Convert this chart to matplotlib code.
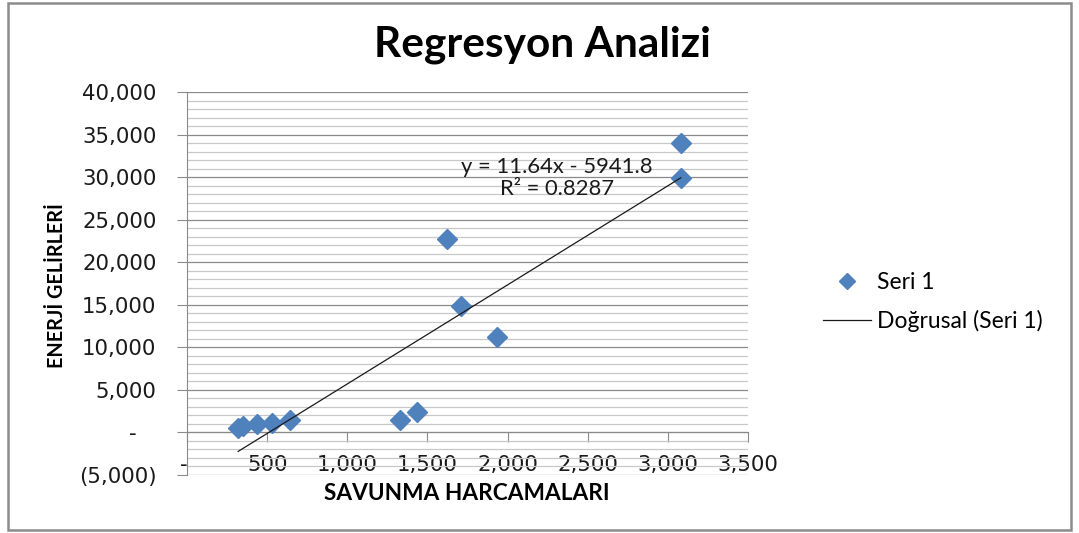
import matplotlib
matplotlib.use("Agg")
import matplotlib.pyplot as plt
from matplotlib.ticker import FuncFormatter, MultipleLocator
from matplotlib.patches import Rectangle
import numpy as np

# ---- data ----
savunma = [319, 350, 437, 531, 644, 1331, 1436, 1619, 1711, 1936, 3081, 3081]
enerji = [506, 741, 976, 1094, 1447, 1447, 2423, 22700, 14850, 11240, 33990, 29870]
slope = 11.64
intercept = -5941.8
eq_text = "y = 11.64x - 5941.8"
r2_text = "R² = 0.8287"
title = "Regresyon Analizi"
xlabel = "SAVUNMA HARCAMALARI"
ylabel = "ENERJİ GELİRLERİ"
series_name = "Seri 1"
trend_name = "Doğrusal (Seri 1)"

blue = "#4F81BD"
fig = plt.figure(figsize=(10.79, 5.33), dpi=100)
ax = fig.add_axes([187/1079, 1-475/533, (748-187)/1079, (475-92)/533])

ax.set_xlim(0, 3500)
ax.set_ylim(-5000, 40000)

def fmt(v, pos=None, ypad=False):
    if abs(v) < 1e-9:
        return "-   " if ypad else "- "
    if v < 0:
        return "({:,.0f})".format(-v)
    return "{:,.0f}".format(v)

ax.yaxis.set_major_locator(MultipleLocator(5000))
ax.yaxis.set_minor_locator(MultipleLocator(1000))
ax.xaxis.set_major_locator(MultipleLocator(500))
ax.yaxis.set_major_formatter(FuncFormatter(lambda v, p: fmt(v, p, True)))
ax.xaxis.set_major_formatter(FuncFormatter(lambda v, p: fmt(v, p, False)))

ax.grid(which="minor", axis="y", color="#c8c8c8", lw=0.9)
ax.grid(which="major", axis="y", color="#8a8a8a", lw=0.9)
ax.set_axisbelow(True)

for s in ["top", "right"]:
    ax.spines[s].set_visible(False)
ax.spines["bottom"].set_position(("data", 0))
ax.spines["bottom"].set_color("#8a8a8a")
ax.spines["left"].set_color("#8a8a8a")
ax.tick_params(axis="both", which="major", direction="out", length=7,
               color="#8a8a8a", labelsize=15.3, labelcolor="#1a1a1a")
ax.tick_params(axis="y", which="minor", length=0)
ax.tick_params(axis="y", pad=15)
ax.tick_params(axis="x", pad=9)

ax.plot(savunma, enerji, linestyle="none", marker="D", markersize=10.5,
        color=blue, label=series_name, zorder=3)
xs = np.array([min(savunma), max(savunma)])
ax.plot(xs, slope*xs + intercept, color="#1a1a1a", lw=0.9, label=trend_name, zorder=4)

ax.text(2306, 29900, eq_text + "\n" + r2_text, ha="center", va="center",
        fontsize=15.8, family="Lato", color="#1a1a1a", linespacing=1.15)

fig.text(542/1079, 1-45/533, title, ha="center", va="center",
         fontsize=30.5, family="Lato", fontweight="bold")
fig.text(467/1079, 1-494/533, xlabel, ha="center", va="center",
         fontsize=16.3, family="Lato", fontweight="bold")
fig.text(57/1079, 1-286/533, ylabel, ha="center", va="center", rotation=90,
         fontsize=14.2, family="Lato", fontweight="bold")

leg = ax.legend(loc="center left", bbox_to_anchor=(818/1079, 1-302/533),
                bbox_transform=fig.transFigure, frameon=False,
                prop={"family": "Lato", "size": 16.5}, handlelength=2.1,
                handletextpad=0.28, labelspacing=0.7, markerscale=0.75,
                borderaxespad=0, borderpad=0.2)

fig.add_artist(Rectangle((8/1079, 3/533), 1063/1079, 527/533,
                         transform=fig.transFigure, fill=False,
                         edgecolor="#8c8c8c", lw=1.8))

fig.savefig("out.png", dpi=100)
